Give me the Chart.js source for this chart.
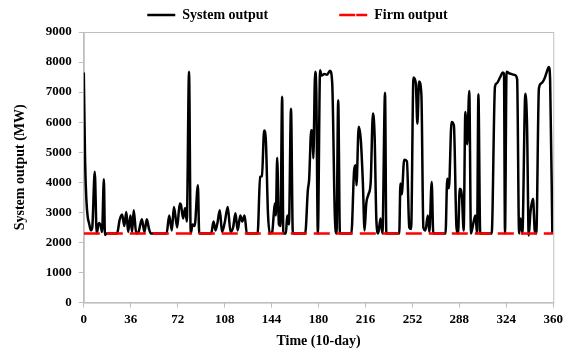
<!DOCTYPE html>
<html lang="en">
<head>
  <meta charset="UTF-8">
  <title>System output</title>
  <script src="https://cdn.jsdelivr.net/npm/chart.js"></script>
  <style>
    html, body { margin: 0; padding: 0; background: #fff; }
  </style>
</head>
<body>
  <canvas id="outputChart" width="567" height="358" style="width: 567px; height: 358px;"></canvas>

  <script>
    // time (10-day periods) and system output (MW)
    const times = [
      0, 1, 2, 3, 4, 5.5, 6.5, 8.4, 9.9, 11.6, 13, 14, 15.4, 16.2, 17.5, 25.5, 27.5, 29.4, 31, 32.6,
      34, 35.8, 37, 38.3, 40.2, 42, 44.5, 46.5, 48.3, 50, 51.5, 63.5, 65.5, 67.5, 69.1, 71.6, 73.6, 74.5, 76.2, 77.7,
      79, 80.7, 82, 83.5, 85, 87.5, 88.5, 97.7, 99.5, 101, 102.5, 104.3, 106, 108, 110.4, 112.5, 114.5, 116.3, 118, 120,
      121.5, 123.3, 125, 133.3, 135.2, 136.6, 138.3, 139.6, 141.2, 142.6, 144.5, 145.6, 146.5, 147.3, 148.3, 149.6, 150.8, 152.1, 153, 155,
      156, 157.3, 158.9, 160.3, 169.8, 171.8, 172.8, 174.4, 175.3, 176, 177.4, 178.3, 179.5, 181.2, 182.4, 184.5, 186.5, 188.8, 190.5, 192.5,
      193.8, 195.1, 196.4, 205.2, 207.3, 208.4, 209.1, 210.8, 212.4, 214, 215.3, 216.6, 218.3, 220, 221.7, 223, 224.4, 225.8, 227.5, 229,
      231, 232, 241.9, 242.8, 243.8, 245.7, 247.8, 249.6, 251, 252.8, 254.6, 255.8, 257.1, 258.9, 260.4, 262, 263.8, 265, 266.8, 268,
      277.4, 278.7, 280, 282, 283.8, 285.8, 287, 288.3, 290, 291.3, 292.6, 294, 295.6, 296.9, 299, 300.3, 301.6, 302.6, 304, 312.8,
      315.3, 316.6, 319.2, 321.2, 322.2, 323, 324.2, 326.7, 330.5, 332.3, 333.8, 335, 336.3, 338.6, 339.9, 341.2, 342.5, 344.5, 345.8, 347,
      349, 350.8, 353.3, 355.1, 356.6, 357.6, 359.3
    ];
    const systemOutput = [
      7650, 4700, 3400, 2850, 2650, 2400, 2500, 4350, 2300, 2650, 2550, 2350, 4100, 2250, 2300, 2300, 2750, 2930, 2550, 3010,
      2350, 2900, 2350, 3070, 2300, 2350, 2770, 2350, 2770, 2450, 2300, 2300, 2900, 2400, 3180, 2500, 3300, 3250, 2800, 3150,
      2700, 7680, 2300, 2600, 2550, 3900, 2300, 2300, 2700, 2400, 2650, 3070, 2350, 2650, 3180, 2350, 2500, 2970, 2400, 2900,
      2700, 2900, 2300, 2300, 4180, 4200, 5720, 5400, 3000, 2300, 2350, 2900, 3300, 2900, 4820, 2600, 2550, 6850, 2300, 2300,
      2900, 2600, 6450, 2300, 2300, 3730, 4100, 5730, 5650, 4800, 7680, 7000, 2300, 7730, 7550, 7600, 7580, 7710, 7300, 2900,
      2300, 6730, 2300, 2300, 4400, 4570, 3900, 5850, 5430, 4000, 2400, 3290, 3600, 4000, 6290, 5560, 2700, 2300, 2800, 2300,
      6980, 2300, 2300, 3960, 3600, 4750, 4700, 2500, 2450, 7490, 7300, 5950, 7350, 6900, 2500, 2400, 2900, 2350, 4010, 2300,
      2300, 4120, 3800, 6010, 5900, 2500, 2300, 3790, 3500, 2400, 6340, 5270, 7040, 2300, 2700, 2900, 2300, 6930, 2300, 2300,
      7180, 7290, 7490, 7650, 7620, 2300, 7680, 7620, 7570, 7430, 2300, 2800, 2300, 6950, 5900, 2230, 3000, 3450, 2400, 2300,
      7120, 7290, 7450, 7680, 7840, 7400, 2300
    ];
    const firmTimes = [0, 360];
    const firmOutput = [2300, 2300];
    const xTicks = [0, 36, 72, 108, 144, 180, 216, 252, 288, 324, 360];

    const serif = "'Liberation Serif', 'Times New Roman', serif";

    // grey frame round the plot area, like the spreadsheet original
    const frame = {
      id: 'frame',
      beforeDraw(chart) {
        // nudge the legend a little to the right, as in the original
        const lg = chart.legend;
        if (lg && !lg._nudged) { lg.left += 8; lg.right += 8; lg._nudged = true; }
      },
      beforeDatasetsDraw(chart) {
        const a = chart.chartArea;
        const ctx = chart.ctx;
        ctx.save();
        ctx.strokeStyle = '#bfbfbf';
        ctx.lineWidth = 1;
        ctx.strokeRect(a.left + 0.5, a.top + 0.5, a.right - a.left, a.bottom - a.top);
        ctx.restore();
      }
    };

    const data = {
      datasets: [{
        label: 'System output',
        data: times.map((t, i) => ({ x: t, y: systemOutput[i] })),
        borderColor: '#000000',
        backgroundColor: '#000000',
        borderWidth: 2.5,
        pointRadius: 0,
        cubicInterpolationMode: 'monotone',
        order: 2
      }, {
        label: 'Firm output',
        data: firmTimes.map((t, i) => ({ x: t, y: firmOutput[i] })),
        borderColor: '#ff0000',
        backgroundColor: '#ff0000',
        borderWidth: 2.5,
        borderDash: [16, 7],
        pointRadius: 0,
        order: 1
      }]
    };

    const config = {
      type: 'line',
      data: data,
      plugins: [frame],
      options: {
        responsive: false,
        animation: false,
        layout: { padding: { left: 12, right: 0, top: 0, bottom: 8 } },
        plugins: {
          legend: {
            position: 'top',
            labels: {
              boxWidth: 28,
              boxHeight: 0,
              padding: 8,
              color: '#000',
              font: { family: serif, size: 14, weight: 'bold' },
              sort: (a, b) => a.datasetIndex - b.datasetIndex,
              generateLabels: chart => {
                const items = Chart.defaults.plugins.legend.labels.generateLabels(chart);
                // wider gap between the two entries
                items.forEach(it => { if (it.datasetIndex === 0) it.text += '\u2003\u2003\u2003\u2003\u2002'; });
                return items;
              }
            }
          },
          tooltip: { enabled: false }
        },
        scales: {
          x: {
            type: 'linear',
            min: 0,
            max: 360,
            afterBuildTicks: axis => { axis.ticks = xTicks.map(v => ({ value: v })); },
            border: { color: '#bfbfbf' },
            grid: { drawOnChartArea: false, tickLength: 5, color: '#bfbfbf' },
            ticks: { color: '#000', font: { family: serif, size: 13, weight: 'bold' }, maxRotation: 0, padding: 4 },
            title: { display: true, text: 'Time (10-day)', color: '#000', font: { family: serif, size: 14, weight: 'bold' }, padding: { top: 2, bottom: 0 } }
          },
          y: {
            min: 0,
            max: 9000,
            ticks: { stepSize: 1000, color: '#000', font: { family: serif, size: 13, weight: 'bold' }, padding: 7, callback: v => String(v) },
            border: { color: '#bfbfbf' },
            grid: { drawOnChartArea: false, tickLength: 5, color: '#bfbfbf' },
            title: { display: true, text: 'System output (MW)', color: '#000', font: { family: serif, size: 14, weight: 'bold' }, padding: { top: 0, bottom: 10 } }
          }
        }
      }
    };

    new Chart(document.getElementById('outputChart'), config);
  </script>
</body>
</html>
